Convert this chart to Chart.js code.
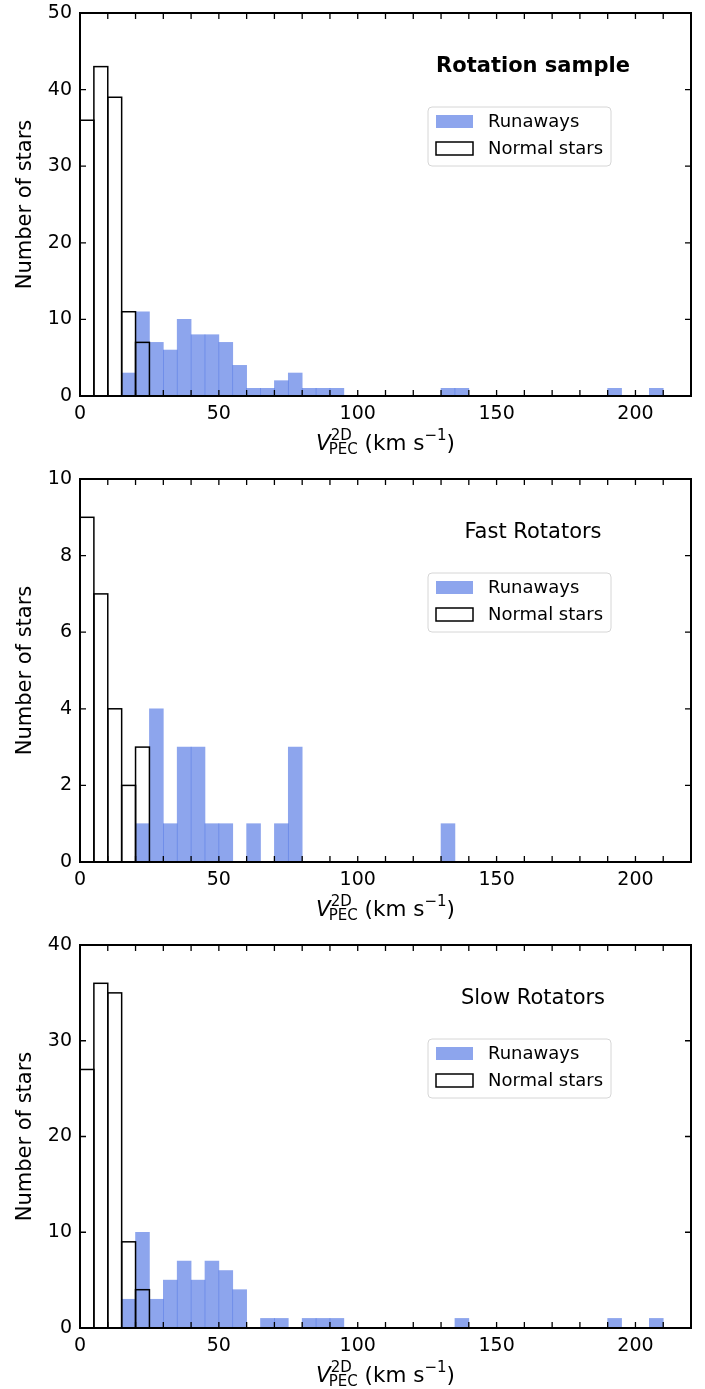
<!DOCTYPE html>
<html>
<head>
<meta charset="utf-8">
<script src="https://cdn.jsdelivr.net/npm/chart.js@4"></script>
<style>
  body { margin: 0; width: 705px; height: 1389px; overflow: hidden; background: #fff; }
  canvas { position: absolute; left: 0; }
</style>
</head>
<body>
<canvas id="rotChart" width="705" height="466" style="top:0px"></canvas>
<canvas id="fastChart" width="705" height="466" style="top:466px"></canvas>
<canvas id="slowChart" width="705" height="466" style="top:932px"></canvas>
<script>
// 5 km/s bins from 0 to 220
const binStarts = Array.from({ length: 44 }, (_, i) => i * 5);

// counts per bin, first bin is 0-5 km/s
const rotRunaways = [0, 0, 0, 3, 11, 7, 6, 10, 8, 8, 7, 4, 1, 1, 2, 3, 1, 1, 1,
    0, 0, 0, 0, 0, 0, 0, 1, 1, 0, 0, 0, 0, 0, 0, 0, 0, 0, 0, 1, 0, 0, 1];
const rotNormal = [36, 43, 39, 11, 7];

const fastRunaways = [0, 0, 0, 0, 1, 4, 1, 3, 3, 1, 1, 0, 1, 0, 1, 3,
    0, 0, 0, 0, 0, 0, 0, 0, 0, 0, 1];
const fastNormal = [9, 7, 4, 2, 3];

const slowRunaways = [0, 0, 0, 3, 10, 3, 5, 7, 5, 7, 6, 4, 0, 1, 1, 0, 1, 1, 1,
    0, 0, 0, 0, 0, 0, 0, 0, 1, 0, 0, 0, 0, 0, 0, 0, 0, 0, 0, 1, 0, 0, 1];
const slowNormal = [27, 36, 35, 9, 4];

const xTickLabels = [0, 50, 100, 150, 200];
const rotYTicks = [0, 10, 20, 30, 40, 50];
const fastYTicks = [0, 2, 4, 6, 8, 10];
const slowYTicks = [0, 10, 20, 30, 40];

const FONT = "'DejaVu Sans', sans-serif";
const runawayColor = 'rgba(65, 105, 225, 0.6)';

const framePlugin = {
    id: 'frame',
    afterDatasetsDraw(chart) {
        // normal stars: black outlines on top of the runaways
        const ctx = chart.ctx;
        const meta = chart.getDatasetMeta(1);
        ctx.save();
        ctx.strokeStyle = '#000';
        ctx.lineWidth = 1.5;
        meta.data.forEach(bar => {
            const p = bar.getProps(['x', 'y', 'base', 'width'], true);
            ctx.strokeRect(p.x - p.width / 2, p.y, p.width, p.base - p.y);
        });
        ctx.restore();
    },
    afterDraw(chart, args, opts) {
        const ctx = chart.ctx;
        const a = chart.chartArea;
        const xs = chart.scales.xv;
        const ys = chart.scales.y;
        ctx.save();

        // inward ticks on all four sides
        ctx.strokeStyle = '#000';
        ctx.lineWidth = 1.3;
        ctx.beginPath();
        for (let v = 10; v < 220; v += 10) {
            const px = xs.getPixelForValue(v);
            ctx.moveTo(px, a.bottom); ctx.lineTo(px, a.bottom - 6);
            ctx.moveTo(px, a.top); ctx.lineTo(px, a.top + 6);
        }
        opts.yTicks.forEach(v => {
            const py = ys.getPixelForValue(v);
            ctx.moveTo(a.left, py); ctx.lineTo(a.left + 6, py);
            ctx.moveTo(a.right, py); ctx.lineTo(a.right - 6, py);
        });
        ctx.stroke();

        // spines
        ctx.lineWidth = 2;
        ctx.strokeRect(a.left, a.top, a.right - a.left, a.bottom - a.top);

        // y title
        ctx.fillStyle = '#000';
        ctx.font = '21px ' + FONT;
        ctx.textAlign = 'center';
        ctx.textBaseline = 'middle';
        ctx.save();
        ctx.translate(26, (a.top + a.bottom) / 2);
        ctx.rotate(-Math.PI / 2);
        ctx.fillText('Number of stars', 0, 0);
        ctx.restore();

        // x title: V^2D_PEC (km s^-1)
        const base = a.bottom + 54;
        const big = '21.5px ' + FONT;
        const small = '15px ' + FONT;
        ctx.textAlign = 'left';
        ctx.textBaseline = 'alphabetic';
        const w = (t, f) => { ctx.font = f; return ctx.measureText(t).width; };
        const wV = w('V', 'italic ' + big);
        const wScript = Math.max(w('2D', small), w('PEC', small) - 2);
        const wMid = w(' (km s', big);
        const wExp = w('\u22121', small);
        const wEnd = w(')', big);
        const total = wV + wScript + wMid + wExp + wEnd;
        let x = (a.left + a.right) / 2 - total / 2;
        ctx.font = 'italic ' + big; ctx.fillText('V', x, base); x += wV;
        ctx.font = small;
        ctx.fillText('2D', x, base - 10);
        ctx.fillText('PEC', x - 2, base + 4);
        x += wScript;
        ctx.font = big; ctx.fillText(' (km s', x, base); x += wMid;
        ctx.font = small; ctx.fillText('\u22121', x, base - 10); x += wExp;
        ctx.font = big; ctx.fillText(')', x, base);

        // panel title
        ctx.textAlign = 'center';
        ctx.textBaseline = 'middle';
        ctx.font = (opts.bold ? 'bold ' : '') + '21px ' + FONT;
        ctx.fillText(opts.title, 533, a.top + 54);

        // legend
        const lx = 428, ly = a.top + 94, lw = 183, lh = 59;
        ctx.beginPath();
        ctx.roundRect(lx, ly, lw, lh, 4);
        ctx.fillStyle = 'rgba(255,255,255,0.8)';
        ctx.fill();
        ctx.strokeStyle = '#d6d6d6';
        ctx.lineWidth = 1;
        ctx.stroke();
        ctx.fillStyle = runawayColor;
        ctx.fillRect(436, a.top + 102, 37, 13);
        ctx.strokeStyle = '#000';
        ctx.lineWidth = 1.5;
        ctx.strokeRect(436, a.top + 129, 37, 13);
        ctx.fillStyle = '#000';
        ctx.textAlign = 'left';
        ctx.font = '18px ' + FONT;
        ctx.fillText('Runaways', 488, a.top + 109);
        ctx.fillText('Normal stars', 488, a.top + 136);

        ctx.restore();
    }
};

function makeHist(id, runaways, normal, yMax, yTicks, title, bold) {
    const ctx = document.getElementById(id).getContext('2d');
    return new Chart(ctx, {
        type: 'bar',
        data: {
            labels: binStarts,
            datasets: [
                {
                    label: 'Runaways',
                    data: runaways,
                    backgroundColor: runawayColor,
                    borderWidth: 0,
                    barPercentage: 1,
                    categoryPercentage: 1,
                    grouped: false,
                    order: 1
                },
                {
                    label: 'Normal stars',
                    data: normal,
                    backgroundColor: 'rgba(0,0,0,0)',
                    borderWidth: 0,
                    barPercentage: 1,
                    categoryPercentage: 1,
                    grouped: false,
                    order: 0
                }
            ]
        },
        options: {
            responsive: false,
            animation: false,
            layout: { padding: { top: 13, right: 14, left: 0, bottom: 0 } },
            plugins: {
                legend: { display: false },
                tooltip: { enabled: false },
                frame: { title: title, bold: bold, yTicks: yTicks }
            },
            scales: {
                x: { type: 'category', display: false, offset: true },
                xv: {
                    type: 'linear',
                    position: 'bottom',
                    min: 0,
                    max: 220,
                    offset: false,
                    afterBuildTicks: s => { s.ticks = xTickLabels.map(v => ({ value: v })); },
                    afterFit: s => { s.height = 70; s.paddingLeft = 0; s.paddingRight = 0; },
                    grid: { display: false, drawTicks: false, offset: false },
                    border: { display: false },
                    ticks: { color: '#000', font: { family: FONT, size: 19 }, padding: 7, maxRotation: 0, autoSkip: false }
                },
                y: {
                    min: 0,
                    max: yMax,
                    afterBuildTicks: s => { s.ticks = yTicks.map(v => ({ value: v })); },
                    afterFit: s => { s.width = 80; s.paddingTop = 0; s.paddingBottom = 0; },
                    grid: { display: false, drawTicks: false },
                    border: { display: false },
                    ticks: { color: '#000', font: { family: FONT, size: 19 }, padding: 8 }
                }
            }
        },
        plugins: [framePlugin]
    });
}

makeHist('rotChart', rotRunaways, rotNormal, 50, rotYTicks, 'Rotation sample', true);
makeHist('fastChart', fastRunaways, fastNormal, 10, fastYTicks, 'Fast Rotators', false);
makeHist('slowChart', slowRunaways, slowNormal, 40, slowYTicks, 'Slow Rotators', false);
</script>
</body>
</html>
